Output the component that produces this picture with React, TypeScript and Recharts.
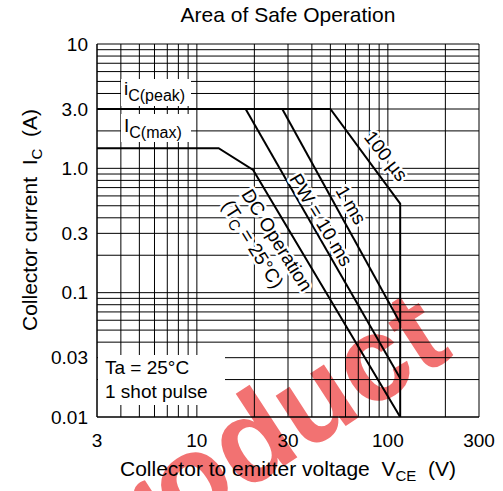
import React from 'react';
import { LineChart, Line, XAxis, YAxis, CartesianGrid } from 'recharts';

// grid values (log decades)
const xGridValues = [3, 4, 5, 6, 7, 8, 9, 10, 20, 30, 40, 50, 60, 70, 80, 90, 100, 200, 300];
const yGridValues = [
  0.01, 0.02, 0.03, 0.04, 0.05, 0.06, 0.07, 0.08, 0.09,
  0.1, 0.2, 0.3, 0.4, 0.5, 0.6, 0.7, 0.8, 0.9,
  1, 2, 3, 4, 5, 6, 7, 8, 9, 10,
];
const xTickLabels: Record<string, string> = { '3': '3', '10': '10', '30': '30', '100': '100', '300': '300' };
const yTickLabels: Record<string, string> = {
  '10': '10', '3': '3.0', '1': '1.0', '0.3': '0.3', '0.1': '0.1', '0.03': '0.03', '0.01': '0.01',
};

// SOA boundaries, VCE (V) vs IC (A)
const pulse100us = [
  { v: 3, i: 3 },
  { v: 50, i: 3 },
  { v: 116, i: 0.52 },
  { v: 116, i: 0.01 },
];
const pulse1ms = [
  { v: 28, i: 3 },
  { v: 116, i: 0.057 },
];
const pulse10ms = [
  { v: 18, i: 3 },
  { v: 116, i: 0.0205 },
];
const dcOperation = [
  { v: 3, i: 1.45 },
  { v: 13, i: 1.45 },
  { v: 19.7, i: 0.97 },
  { v: 116, i: 0.01 },
];

const FONT = '"Liberation Sans", Arial, Helvetica, sans-serif';
const W = 503;
const H = 491;
const SP = '\u00a0';

const XTick = (p: any) => {
  const label = xTickLabels[String(p.payload.value)];
  if (!label) return null;
  return (
    <text x={p.x} y={447} textAnchor="middle" fontSize={19} fontFamily={FONT} fill="#000">
      {label}
    </text>
  );
};

const YTick = (p: any) => {
  const label = yTickLabels[String(p.payload.value)];
  if (!label) return null;
  return (
    <text x={88} y={p.y + 6.5} textAnchor="end" fontSize={19} fontFamily={FONT} fill="#000">
      {label}
    </text>
  );
};

const halo = { stroke: '#fff', strokeWidth: 5, paintOrder: 'stroke' as const, strokeLinejoin: 'round' as const };

const RotLabel = ({ x, y, angle, children }: { x: number; y: number; angle: number; children: React.ReactNode }) => (
  <text
    x={0}
    y={0}
    transform={`translate(${x},${y}) rotate(${angle})`}
    textAnchor="middle"
    dominantBaseline="central"
    fontSize={19}
    fontFamily={FONT}
    fill="#000"
    {...halo}
  >
    {children}
  </text>
);

export default function App() {
  const lineProps = {
    type: 'linear' as const,
    dataKey: 'i',
    stroke: '#000',
    strokeWidth: 2,
    dot: false,
    isAnimationActive: false,
  };
  return (
    <div style={{ position: 'absolute', left: 0, top: 0, width: W, height: H, background: '#fff', overflow: 'hidden' }}>
      {/* watermark behind the chart */}
      <svg width={W} height={H} style={{ position: 'absolute', left: 0, top: 0 }}>
        <text
          transform="translate(455,355) rotate(-33)"
          textAnchor="end"
          fontSize={120}
          fontWeight="bold"
          fontFamily={FONT}
          fill="#f05a5a"
          opacity={0.85}
        >
          product
        </text>
      </svg>
      <div style={{ position: 'absolute', left: 0, top: 0 }}>
        <LineChart width={W} height={H} margin={{ top: 44, right: 24, left: 0, bottom: 44 }}>
          <CartesianGrid stroke="#000" strokeWidth={1} />
          <XAxis
            dataKey="v"
            type="number"
            scale="log"
            domain={[3, 300]}
            ticks={xGridValues}
            allowDataOverflow
            tick={XTick}
            tickLine={false}
            axisLine={{ stroke: '#000' }}
            height={30}
            interval={0}
          />
          <YAxis
            type="number"
            scale="log"
            domain={[0.01, 10]}
            ticks={yGridValues}
            allowDataOverflow
            tick={YTick}
            tickLine={false}
            axisLine={{ stroke: '#000' }}
            width={97}
            interval={0}
          />
          <Line {...lineProps} data={pulse100us} />
          <Line {...lineProps} data={pulse1ms} />
          <Line {...lineProps} data={pulse10ms} />
          <Line {...lineProps} data={dcOperation} />
        </LineChart>
      </div>
      {/* annotations */}
      <svg width={W} height={H} style={{ position: 'absolute', left: 0, top: 0, pointerEvents: 'none' }}>
        <text x={288} y={22} textAnchor="middle" fontSize={21} fontFamily={FONT} fill="#000">
          Area of Safe Operation
        </text>

        <rect x={121} y={79} width={70} height={27} fill="#fff" />
        <text x={124} y={95} fontSize={19} fontFamily={FONT} fill="#000">
          i<tspan fontSize={16} dy={6}>C(peak)</tspan>
        </text>
        <rect x={121} y={114} width={70} height={28} fill="#fff" />
        <text x={124} y={132} fontSize={19} fontFamily={FONT} fill="#000">
          I<tspan fontSize={16} dy={6}>C(max)</tspan>
        </text>

        <rect x={98} y={355} width={127} height={50} fill="#fff" />
        <text x={105} y={374} fontSize={19} fontFamily={FONT} fill="#000">Ta = 25°C</text>
        <text x={105} y={398} fontSize={19} fontFamily={FONT} fill="#000">1 shot pulse</text>

        <RotLabel x={386} y={156} angle={52}>100 µs</RotLabel>
        <RotLabel x={351} y={205} angle={60}>1 ms</RotLabel>
        <RotLabel x={321} y={220} angle={59}>PW = 10 ms</RotLabel>
        <RotLabel x={277} y={240} angle={58}>DC Operation</RotLabel>
        <text
          transform="translate(253,244) rotate(58)"
          textAnchor="middle"
          dominantBaseline="central"
          fontSize={19}
          fontFamily={FONT}
          fill="#000"
          {...halo}
        >
          (T<tspan fontSize={15} dy={5}>C</tspan><tspan dy={-5}> = 25°C)</tspan>
        </text>

        <text
          transform="translate(37,220) rotate(-90)"
          textAnchor="middle"
          fontSize={21}
          fontFamily={FONT}
          fill="#000"
        >
          {`Collector current${SP}${SP}I`}<tspan fontSize={15} dy={5}>C</tspan><tspan dy={-5}>{`${SP}${SP}(A)`}</tspan>
        </text>
        <text x={288} y={476} textAnchor="middle" fontSize={21} fontFamily={FONT} fill="#000">
          {`Collector to emitter voltage${SP}${SP}V`}<tspan fontSize={15} dy={5}>CE</tspan><tspan dy={-5}>{`${SP}${SP}(V)`}</tspan>
        </text>
      </svg>
    </div>
  );
}
